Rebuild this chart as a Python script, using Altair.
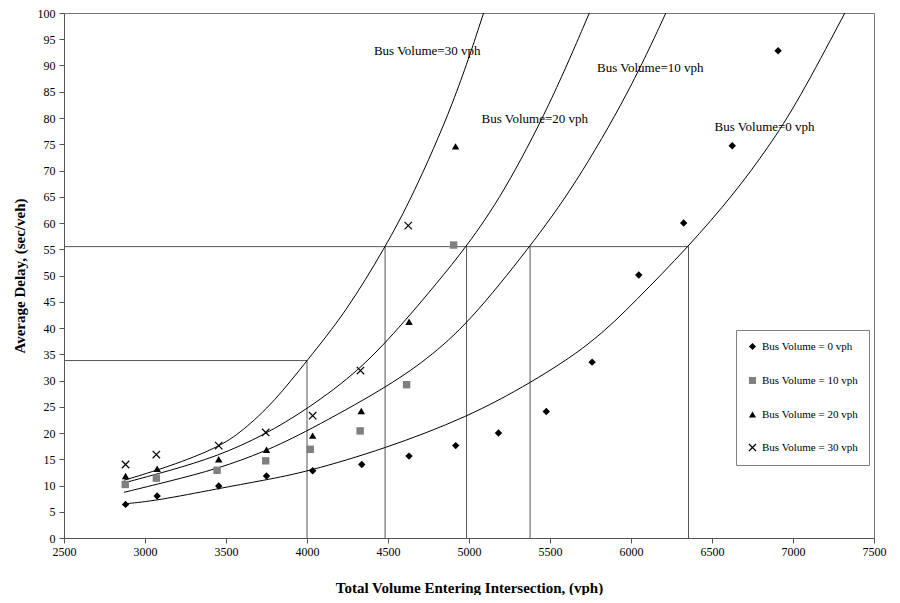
import altair as alt
import pandas as pd

# ---- fitted curves ----
c0_x = [2870, 3070, 3450, 3735, 4000, 4480, 4990, 5380, 5760, 6030, 6355, 6635, 6850, 7030, 7320]
c0_y = [6.5, 7.1, 9.4, 11.0, 12.6, 17.0, 23.0, 29.5, 37.0, 45.2, 55.5, 65.5, 74.5, 83.1, 100]
c10_x = [2870, 3150, 3450, 3735, 4000, 4480, 4740, 5000, 5377, 5650, 5990, 6215]
c10_y = [8.7, 10.8, 13.2, 16.4, 20.3, 28.5, 34.0, 41.0, 55.5, 67.0, 85.0, 100]
c20_x = [2870, 3150, 3450, 3735, 4000, 4330, 4610, 4800, 4985, 5210, 5500, 5743]
c20_y = [10.5, 12.8, 15.6, 19.6, 24.5, 32.0, 41.5, 48.5, 55.5, 65.5, 82.5, 100]
c30_x = [2870, 3150, 3450, 3600, 3800, 4000, 4240, 4485, 4650, 4910, 5090]
c30_y = [11.0, 13.6, 17.2, 20.3, 26.0, 33.8, 43.0, 55.5, 65.0, 83.0, 100]

# ---- observed points ----
d0_x = [2880, 3075, 3455, 3750, 4035, 4338, 4630, 4918, 5182, 5477, 5760, 6048, 6325, 6625, 6908]
d0_y = [6.4, 8.0, 9.9, 11.8, 12.8, 14.0, 15.6, 17.6, 20.0, 24.1, 33.5, 50.1, 60.0, 74.7, 92.8]
d10_x = [2878, 3070, 3445, 3745, 4020, 4328, 4615, 4905]
d10_y = [10.2, 11.4, 12.9, 14.7, 16.9, 20.4, 29.2, 55.8]
d20_x = [2880, 3075, 3455, 3750, 4035, 4335, 4630, 4917]
d20_y = [11.8, 13.2, 15.0, 16.8, 19.5, 24.2, 41.2, 74.6]
d30_x = [2880, 3070, 3455, 3745, 4035, 4330, 4625]
d30_y = [14.0, 15.9, 17.6, 20.1, 23.3, 31.9, 59.5]

series_names = ["Bus Volume = 0 vph", "Bus Volume = 10 vph", "Bus Volume = 20 vph", "Bus Volume = 30 vph"]

# ---- reference (reading) lines ----
h_y = [55.5, 33.8]
h_x_end = [6355, 4000]
v_x = [4000, 4482, 4985, 5377, 6355]
v_y_top = [33.8, 55.5, 55.5, 55.5, 55.5]

# ---- curve annotations ----
lab_text = ["Bus Volume=30 vph", "Bus Volume=20 vph", "Bus Volume=10  vph", "Bus Volume=0 vph"]
lab_x = [4413, 5077, 5790, 6516]
lab_y = [92.8, 79.9, 89.6, 78.2]

SERIF = "Liberation Serif"

curves = pd.concat([
    pd.DataFrame({"x": xs, "y": ys, "curve": name})
    for xs, ys, name in [(c0_x, c0_y, "c0"), (c10_x, c10_y, "c10"),
                         (c20_x, c20_y, "c20"), (c30_x, c30_y, "c30")]
])
pts = pd.concat([
    pd.DataFrame({"x": xs, "y": ys, "series": name})
    for xs, ys, name in zip([d0_x, d10_x, d20_x, d30_x], [d0_y, d10_y, d20_y, d30_y], series_names)
])
hl = pd.DataFrame({"x": [2500] * len(h_y), "x2": h_x_end, "y": h_y})
vl = pd.DataFrame({"x": v_x, "y": [0] * len(v_x), "y2": v_y_top})
labs = pd.DataFrame({"x": lab_x, "y": lab_y, "t": lab_text})

xscale = alt.Scale(domain=[2500, 7500], nice=False, zero=False)
yscale = alt.Scale(domain=[0, 100], nice=False)

xaxis = alt.Axis(values=list(range(2500, 7501, 500)), title="Total Volume Entering Intersection, (vph)",
                 grid=False, tickSize=5, labelPadding=3, labelFont=SERIF, labelFontSize=12,
                 labelColor="black", titleFont=SERIF, titleFontSize=15, titleFontWeight="bold",
                 titleColor="black", titlePadding=23, domainColor="#555", tickColor="#555",
                 format="d", labelFlush=False)
yaxis = alt.Axis(values=list(range(0, 101, 5)), title="Average Delay, (sec/veh)",
                 grid=False, tickSize=5, labelPadding=4, labelFont=SERIF, labelFontSize=12,
                 labelColor="black", titleFont=SERIF, titleFontSize=15, titleFontWeight="bold",
                 titleColor="black", titlePadding=10, domainColor="#555", tickColor="#555",
                 labelFlush=False)

X = alt.X("x:Q", scale=xscale, axis=xaxis)
Y = alt.Y("y:Q", scale=yscale, axis=yaxis)

hrules = alt.Chart(hl).mark_rule(color="#555", strokeWidth=1).encode(x=X, x2="x2:Q", y=Y)
vrules = alt.Chart(vl).mark_rule(color="#555", strokeWidth=1).encode(x=X, y=Y, y2="y2:Q")

lines = alt.Chart(curves).mark_line(color="black", strokeWidth=1, interpolate="basis", clip=True).encode(
    x=X, y=Y, detail="curve:N")

leg = alt.Legend(title=None, orient="none", legendX=672, legendY=317, padding=11, rowPadding=21,
                 strokeColor="#808080", fillColor="white", labelFont=SERIF, labelFontSize=11,
                 labelColor="black", symbolSize=50, symbolStrokeWidth=1.2, labelOffset=4)

points = alt.Chart(pts).mark_point(filled=True, opacity=1, strokeWidth=1.2, size=55).encode(
    x=X, y=Y,
    shape=alt.Shape("series:N", scale=alt.Scale(domain=series_names,
                    range=["diamond", "square", "triangle-up", "M-1,-1L1,1M-1,1L1,-1"]), legend=leg),
    fill=alt.Fill("series:N", scale=alt.Scale(domain=series_names,
                  range=["black", "#808080", "black", "transparent"]), legend=leg),
    stroke=alt.Stroke("series:N", scale=alt.Scale(domain=series_names,
                      range=["transparent", "transparent", "transparent", "black"]), legend=leg),
)

texts = alt.Chart(labs).mark_text(align="left", baseline="middle", font=SERIF, fontSize=13,
                                  color="black").encode(x=X, y=Y, text="t:N")

chart = alt.layer(hrules, vrules, lines, points, texts).properties(
    width=810, height=525,
    autosize=alt.AutoSizeParams(type="none"),
    padding={"left": 56, "top": 5, "right": 14, "bottom": 57},
).configure_view(stroke="#777", strokeWidth=1)

chart.save("out.html", embed_options={"renderer": "svg", "actions": False})
